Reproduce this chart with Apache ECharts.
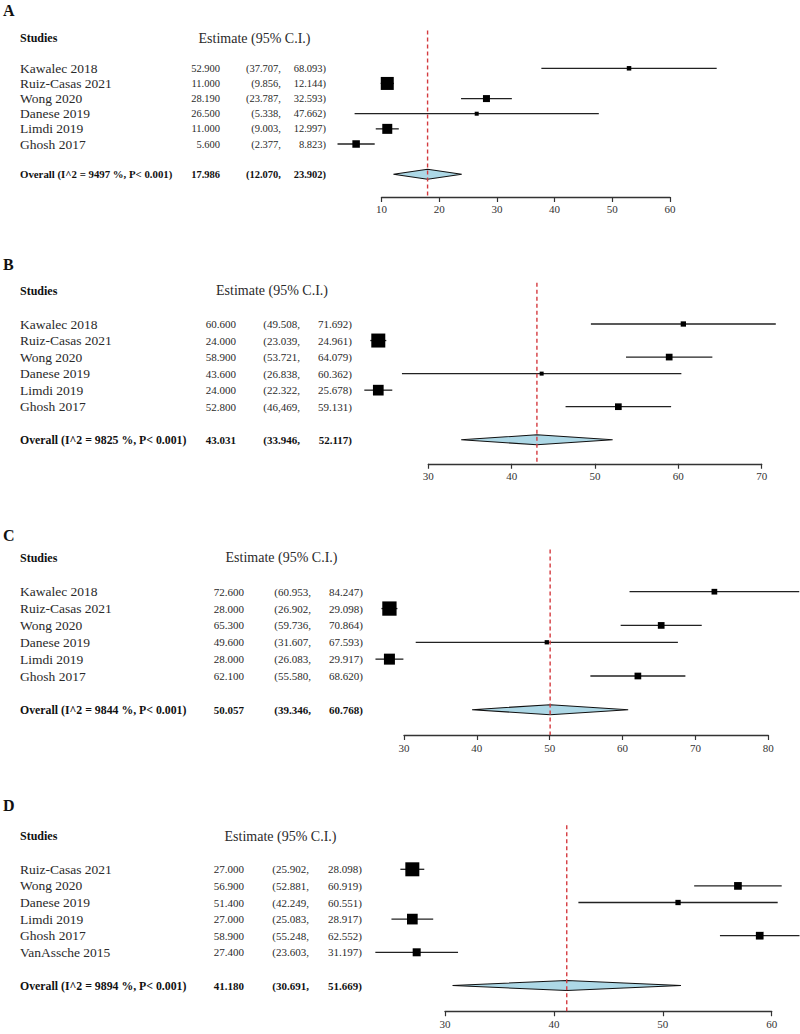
<!DOCTYPE html>
<html><head><meta charset="utf-8">
<script src="https://cdn.jsdelivr.net/npm/echarts@6/dist/echarts.min.js"></script>
<style>html,body{margin:0;padding:0;background:#fff}#c{width:800px;height:1034px}</style>
</head><body><div id="c"></div>
<script>
// ---------- Panel A ----------
const studiesA = ['Kawalec 2018','Ruiz-Casas 2021','Wong 2020','Danese 2019','Limdi 2019','Ghosh 2017'];
const estA = [52.900, 11.000, 28.190, 26.500, 11.000, 5.600];
const loA = [37.707, 9.856, 23.787, 5.338, 9.003, 2.377];
const hiA = [68.093, 12.144, 32.593, 47.662, 12.997, 8.823];
const weightA = [4.5, 13, 7, 4, 10, 7.5];
const overallA = [17.986, 12.070, 23.902];
const hetA = 'Overall (I^2 = 9497 %, P< 0.001)';
const ticksA = [10, 20, 30, 40, 50, 60];
// ---------- Panel B ----------
const studiesB = ['Kawalec 2018','Ruiz-Casas 2021','Wong 2020','Danese 2019','Limdi 2019','Ghosh 2017'];
const estB = [60.600, 24.000, 58.900, 43.600, 24.000, 52.800];
const loB = [49.508, 23.039, 53.721, 26.838, 22.322, 46.469];
const hiB = [71.692, 24.961, 64.079, 60.362, 25.678, 59.131];
const weightB = [5.3, 14, 6.7, 4, 10.7, 6.7];
const overallB = [43.031, 33.946, 52.117];
const hetB = 'Overall (I^2 = 9825 %, P< 0.001)';
const ticksB = [30, 40, 50, 60, 70];
const loLabelOverrideB = {5: '46,469'};
// ---------- Panel C ----------
const studiesC = ['Kawalec 2018','Ruiz-Casas 2021','Wong 2020','Danese 2019','Limdi 2019','Ghosh 2017'];
const estC = [72.600, 28.000, 65.300, 49.600, 28.000, 62.100];
const loC = [60.953, 26.902, 59.736, 31.607, 26.083, 55.580];
const hiC = [84.247, 29.098, 70.864, 67.593, 29.917, 68.620];
const weightC = [5.7, 14.3, 6.7, 4.3, 11, 6.7];
const overallC = [50.057, 39.346, 60.768];
const hetC = 'Overall (I^2 = 9844 %, P< 0.001)';
const ticksC = [30, 40, 50, 60, 70, 80];
// ---------- Panel D ----------
const studiesD = ['Ruiz-Casas 2021','Wong 2020','Danese 2019','Limdi 2019','Ghosh 2017','VanAssche 2015'];
const estD = [27.000, 56.900, 51.400, 27.000, 58.900, 27.400];
const loD = [25.902, 52.881, 42.249, 25.083, 55.248, 23.603];
const hiD = [28.098, 60.919, 60.551, 28.917, 62.552, 31.197];
const weightD = [14, 7.7, 5.3, 10.7, 7.7, 8];
const overallD = [41.180, 30.691, 51.669];
const hetD = 'Overall (I^2 = 9894 %, P< 0.001)';
const ticksD = [30, 40, 50, 60];

const panelLetters = ['A', 'B', 'C', 'D'];
const headerStudies = 'Studies';
const headerEstimate = 'Estimate (95% C.I.)';

const panels = [
  {studies: studiesA, est: estA, lo: loA, hi: hiA, w: weightA, ov: overallA, het: hetA, ticks: ticksA, loOv: {}},
  {studies: studiesB, est: estB, lo: loB, hi: hiB, w: weightB, ov: overallB, het: hetB, ticks: ticksB, loOv: loLabelOverrideB},
  {studies: studiesC, est: estC, lo: loC, hi: hiC, w: weightC, ov: overallC, het: hetC, ticks: ticksC, loOv: {}},
  {studies: studiesD, est: estD, lo: loD, hi: hiD, w: weightD, ov: overallD, het: hetD, ticks: ticksD, loOv: {}}
];

// layout (pixels)
const layouts = [
  {row0: 68.3, sp: 15.14, yMin: -2.5, yMax: 8.5, left: 381.5, right: 130, estX: 220, loX: 281, hiX: 326, letterY: 10, numFs: 10.5, ovFs: 10.8},
  {row0: 324, sp: 16.54, yMin: -2.5, yMax: 8.45, left: 428.3, right: 38.3, estX: 236, loX: 300, hiX: 352, letterY: 264, numFs: 11, ovFs: 11.8},
  {row0: 591.7, sp: 16.86, yMin: -2.5, yMax: 8.5, left: 404, right: 31.7, estX: 244, loX: 311, hiX: 363, letterY: 535, numFs: 11, ovFs: 11.8},
  {row0: 869.3, sp: 16.6, yMin: -2.65, yMax: 8.55, left: 445, right: 28.3, estX: 244, loX: 309, hiX: 362, letterY: 805, numFs: 11, ovFs: 11.8}
];

const FONT = '"Liberation Serif", "DejaVu Serif", serif';
const OV_ROW = 7, HEADER_ROW = -2;

const option = {animation: false, grid: [], xAxis: [], yAxis: [], series: [], graphic: []};

panels.forEach((P, i) => {
  const L = layouts[i];
  option.grid.push({left: L.left, right: L.right, top: L.row0 + L.yMin * L.sp, height: (L.yMax - L.yMin) * L.sp});
  option.xAxis.push({
    type: 'value', gridIndex: i, min: P.ticks[0], max: P.ticks[P.ticks.length - 1],
    interval: P.ticks[1] - P.ticks[0], position: 'bottom',
    axisLine: {show: true, onZero: false, lineStyle: {color: '#333', width: 1.3}},
    axisTick: {show: true, length: 5, lineStyle: {color: '#333', width: 1.2}},
    axisLabel: {fontFamily: FONT, fontSize: 11, color: '#333', margin: 7},
    splitLine: {show: false}
  });
  option.yAxis.push({type: 'value', gridIndex: i, inverse: true, min: L.yMin, max: L.yMax, show: false, splitLine: {show: false}});

  // CI lines + boxes
  option.series.push({
    type: 'custom', xAxisIndex: i, yAxisIndex: i, clip: false, z: 3,
    data: P.est.map((e, k) => [e, k, P.lo[k], P.hi[k], P.w[k]]),
    renderItem: function (params, api) {
      const row = api.value(1);
      const a = api.coord([api.value(2), row]);
      const b = api.coord([api.value(3), row]);
      const c = api.coord([api.value(0), row]);
      const s = api.value(4);
      return {type: 'group', children: [
        {type: 'line', shape: {x1: a[0], y1: a[1], x2: b[0], y2: b[1]}, style: {stroke: '#222', lineWidth: 1.3}},
        {type: 'rect', shape: {x: c[0] - s / 2, y: c[1] - s / 2, width: s, height: s}, style: {fill: '#000'}}
      ]};
    }
  });
  // overall diamond
  option.series.push({
    type: 'custom', xAxisIndex: i, yAxisIndex: i, clip: false, z: 3,
    data: [[P.ov[0], OV_ROW, P.ov[1], P.ov[2]]],
    renderItem: function (params, api) {
      const row = api.value(1);
      const a = api.coord([api.value(2), row]);
      const b = api.coord([api.value(3), row]);
      const c = api.coord([api.value(0), row]);
      return {type: 'polygon', shape: {points: [a, [c[0], c[1] - 5], b, [c[0], c[1] + 5]]},
        style: {fill: '#add8e6', stroke: '#111', lineWidth: 1.1}};
    }
  });
  // reference dashed line
  option.series.push({
    type: 'line', xAxisIndex: i, yAxisIndex: i, z: 5, symbol: 'none', silent: true,
    data: [[P.ov[0], L.yMin], [P.ov[0], L.yMax]],
    lineStyle: {color: '#d43a3f', width: 1.4, type: [4, 3]}
  });
  // text table
  const f3 = v => v.toFixed(3);
  const rows = P.studies.map((s, k) => [P.ticks[0], k]);
  rows.push([P.ticks[0], OV_ROW]);
  rows.push([P.ticks[0], HEADER_ROW]);
  option.series.push({
    type: 'custom', xAxisIndex: i, yAxisIndex: i, clip: false, z: 2, silent: true,
    data: rows,
    renderItem: function (params, api) {
      const k = params.dataIndex;
      const y = api.coord([api.value(0), api.value(1)])[1];
      const T = (text, x, align, font, fill) => ({type: 'text', x: x, y: y,
        style: {text: text, align: align, verticalAlign: 'middle', font: font, fill: fill || '#2a2a2a'}});
      const nameFont = '13.5px ' + FONT;
      const numFont = L.numFs + 'px ' + FONT;
      if (k < P.studies.length) {
        const loTxt = P.loOv[k] !== undefined ? P.loOv[k] : f3(P.lo[k]);
        return {type: 'group', children: [
          T(P.studies[k], 20, 'left', nameFont),
          T(f3(P.est[k]), L.estX, 'right', numFont),
          T('(' + loTxt + ',', L.loX, 'right', numFont),
          T(f3(P.hi[k]) + ')', L.hiX, 'right', numFont)
        ]};
      } else if (k === P.studies.length) {
        const bf = 'bold ' + L.ovFs + 'px ' + FONT;
        const bn = 'bold ' + L.numFs + 'px ' + FONT;
        return {type: 'group', children: [
          T(P.het, 20, 'left', bf, '#111'),
          T(f3(P.ov[0]), L.estX, 'right', bn, '#111'),
          T('(' + f3(P.ov[1]) + ',', L.loX, 'right', bn, '#111'),
          T(f3(P.ov[2]) + ')', L.hiX, 'right', bn, '#111')
        ]};
      } else {
        return {type: 'group', children: [
          T(headerStudies, 20, 'left', 'bold 12px ' + FONT, '#111'),
          T(headerEstimate, (L.loX + L.estX) / 2 + 4, 'center', '14px ' + FONT)
        ]};
      }
    }
  });
  option.graphic.push({type: 'text', left: 3, top: L.letterY - 8,
    style: {text: panelLetters[i], font: 'bold 16px ' + FONT, fill: '#111'}});
});

const chart = echarts.init(document.getElementById('c'), null, {renderer: 'svg'});
chart.setOption(option);
</script>
</body></html>
